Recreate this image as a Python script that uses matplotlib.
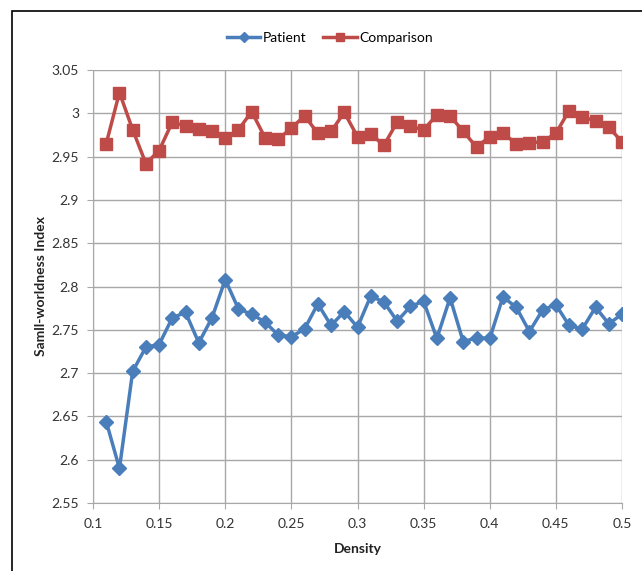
import numpy as np
import matplotlib.pyplot as plt
from matplotlib.patches import Rectangle

plt.rcParams['font.family'] = ['Lato', 'DejaVu Sans']

density = np.round(np.arange(11, 51) / 100, 2)

patient = [2.644, 2.590, 2.702, 2.730, 2.733, 2.764, 2.770, 2.735, 2.764, 2.808,
           2.774, 2.768, 2.759, 2.744, 2.742, 2.751, 2.780, 2.755, 2.771, 2.753,
           2.789, 2.782, 2.760, 2.777, 2.783, 2.740, 2.787, 2.736, 2.741, 2.740,
           2.788, 2.776, 2.748, 2.773, 2.779, 2.755, 2.751, 2.776, 2.757, 2.768]

comparison = [2.965, 3.024, 2.981, 2.942, 2.957, 2.990, 2.985, 2.982, 2.979, 2.971,
              2.981, 3.002, 2.972, 2.970, 2.983, 2.997, 2.977, 2.979, 3.001, 2.973,
              2.976, 2.963, 2.990, 2.985, 2.981, 2.998, 2.997, 2.979, 2.961, 2.973,
              2.977, 2.965, 2.966, 2.967, 2.977, 3.003, 2.996, 2.991, 2.984, 2.967]

x_ticks = [0.1, 0.15, 0.2, 0.25, 0.3, 0.35, 0.4, 0.45, 0.5]
x_labels = ['0.1', '0.15', '0.2', '0.25', '0.3', '0.35', '0.4', '0.45', '0.5']
y_ticks = [2.55, 2.6, 2.65, 2.7, 2.75, 2.8, 2.85, 2.9, 2.95, 3.0, 3.05]
y_labels = ['2.55', '2.6', '2.65', '2.7', '2.75', '2.8', '2.85', '2.9', '2.95', '3', '3.05']

fig = plt.figure(figsize=(6.42, 5.71), dpi=100)
fig.patches.append(Rectangle((12 / 642, -0.05), 1.1, 1 - 11 / 571 + 0.05,
                             transform=fig.transFigure, fill=False,
                             edgecolor='black', linewidth=1.2))

ax = fig.add_axes([93 / 642, 1 - 503 / 571, 529 / 642, 433 / 571])

ax.plot(density, patient, color='#4a7ebb', linewidth=2.5, marker='D',
        markersize=7, label='Patient')
ax.plot(density, comparison, color='#be4b48', linewidth=2.5, marker='s',
        markersize=8, label='Comparison')

ax.set_xlim(0.1, 0.5)
ax.set_ylim(2.55, 3.05)
ax.set_xticks(x_ticks)
ax.set_xticklabels(x_labels)
ax.set_yticks(y_ticks)
ax.set_yticklabels(y_labels)
ax.grid(True, color='#a8a8a8', linewidth=1)
ax.set_axisbelow(True)
for s in ['top', 'right']:
    ax.spines[s].set_visible(False)
for s in ['left', 'bottom']:
    ax.spines[s].set_color('#a8a8a8')
ax.tick_params(colors='#a8a8a8', length=4, labelsize=10, labelcolor='#333333')
ax.tick_params(axis='x', pad=7)
ax.tick_params(axis='y', pad=6)

ax.set_xlabel('Density', fontsize=10, fontweight='bold', color='#222222', labelpad=9)
ax.set_ylabel('Samll-worldness Index', fontsize=10, fontweight='bold', color='#222222',
              labelpad=3)

fig.legend(loc='center', bbox_to_anchor=(330 / 642, 1 - 38 / 571), ncol=2,
           frameon=False, fontsize=10, handlelength=2.4, columnspacing=1.2,
           handletextpad=0.2, markerscale=0.8)

fig.savefig('out.png', dpi=100)
